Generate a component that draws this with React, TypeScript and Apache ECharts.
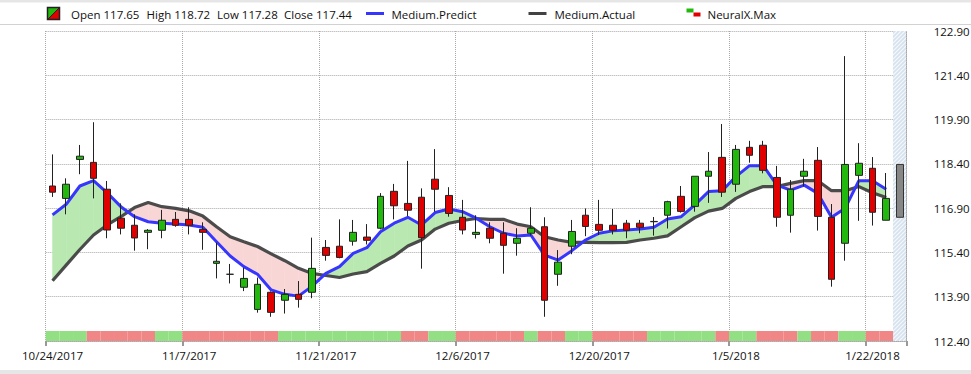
import React, { useEffect, useRef } from "react";
import * as echarts from "echarts";

// ---------------- data ----------------
const dates = [
  "10/24/2017", "10/25/2017", "10/26/2017", "10/27/2017", "10/30/2017", "10/31/2017", "11/1/2017", "11/2/2017", "11/3/2017", "11/6/2017",
  "11/7/2017", "11/8/2017", "11/9/2017", "11/10/2017", "11/13/2017", "11/14/2017", "11/15/2017", "11/16/2017", "11/17/2017", "11/20/2017",
  "11/21/2017", "11/22/2017", "11/24/2017", "11/27/2017", "11/28/2017", "11/29/2017", "11/30/2017", "12/1/2017", "12/4/2017", "12/5/2017",
  "12/6/2017", "12/7/2017", "12/8/2017", "12/11/2017", "12/12/2017", "12/13/2017", "12/14/2017", "12/15/2017", "12/18/2017", "12/19/2017",
  "12/20/2017", "12/21/2017", "12/22/2017", "12/26/2017", "12/27/2017", "12/28/2017", "12/29/2017", "1/2/2018", "1/3/2018", "1/4/2018",
  "1/5/2018", "1/8/2018", "1/9/2018", "1/10/2018", "1/11/2018", "1/12/2018", "1/16/2018", "1/17/2018", "1/18/2018", "1/19/2018",
  "1/22/2018", "1/23/2018", "1/24/2018",
];

const opens = [
  117.65, 117.23, 118.55, 118.45, 117.54, 116.56, 116.32, 116.08, 116.15, 116.52,
  116.52, 116.18, 115.03, 114.66, 114.22, 113.47, 114.05, 113.78, 113.98, 114.05,
  115.57, 115.61, 115.78, 115.92, 116.22, 117.47, 117.06, 117.27, 117.88, 117.33,
  116.59, 116.01, 116.22, 116.05, 115.71, 116.05, 116.27, 114.66, 115.61, 116.66,
  116.35, 116.32, 116.39, 116.39, 116.44, 116.66, 117.3, 116.96, 117.98, 118.62,
  117.71, 118.96, 119.03, 117.94, 116.66, 117.98, 118.52, 116.59, 115.71, 118.01,
  118.25, 116.49,
];
const highs = [
  118.72, 117.91, 119.04, 119.81, 117.82, 117.06, 116.69, 116.19, 116.84, 116.77,
  116.93, 116.42, 115.73, 115.01, 114.88, 114.55, 114.08, 114.16, 114.43, 115.9,
  115.82, 116.52, 116.5, 116.36, 117.41, 117.72, 118.5, 117.57, 118.9, 117.61,
  117.18, 116.66, 116.42, 116.42, 116.22, 116.93, 116.59, 115.48, 116.5, 116.89,
  117.18, 116.87, 116.5, 116.5, 116.6, 117.15, 117.65, 117.98, 118.8, 119.75,
  119.04, 119.18, 119.18, 118.33, 117.85, 118.57, 118.97, 117.04, 122.05, 119.1,
  118.63, 118.09,
];
const lows = [
  117.28, 116.69, 118.05, 117.23, 115.88, 116.01, 115.46, 115.51, 115.88, 116.27,
  116.01, 115.49, 114.52, 114.35, 114.09, 113.36, 113.22, 113.33, 113.53, 113.85,
  115.12, 115.2, 115.63, 115.67, 116.18, 116.52, 116.63, 114.85, 116.78, 116.61,
  116.01, 115.87, 115.71, 114.68, 115.29, 115.97, 113.22, 114.27, 115.34, 115.95,
  115.99, 116.01, 115.88, 116.05, 115.97, 116.21, 116.75, 116.78, 117.08, 117.28,
  117.45, 118.44, 118.08, 116.27, 116.07, 117.64, 116.14, 114.24, 115.12, 116.47,
  116.31, 116.49,
];
const closes = [
  117.44, 117.71, 118.66, 117.91, 116.16, 116.22, 115.89, 116.15, 116.49, 116.32,
  116.32, 116.08, 115.1, 114.66, 114.52, 114.32, 113.37, 113.98, 113.81, 114.86,
  115.3, 115.23, 116.08, 115.81, 117.3, 116.98, 116.83, 115.9, 117.54, 116.72,
  116.16, 116.08, 115.88, 115.64, 115.88, 116.22, 113.78, 115.07, 116.11, 116.28,
  116.15, 116.15, 116.15, 116.25, 116.45, 117.12, 116.79, 117.98, 118.15, 117.44,
  118.89, 118.69, 118.18, 116.59, 117.54, 118.15, 116.62, 114.49, 118.38, 118.42,
  116.76, 117.23,
];
// forecast bar for the next session: [open, close, low, high]
const forecastBar = [116.59, 118.38, 116.59, 118.38];

const mediumPredict = [
  116.67, 117.03, 117.65, 117.83, 117.42, 116.95, 116.61, 116.44, 116.39, 116.36,
  116.33, 116.25, 115.76, 115.28, 114.92, 114.66, 114.13, 113.98, 113.92, 114.26,
  114.69, 114.92, 115.37, 115.56, 116.1, 116.39, 116.59, 116.33, 116.75, 116.87,
  116.78, 116.56, 116.27, 116.05, 115.96, 115.99, 115.31, 115.14, 115.46, 115.82,
  116.05, 116.13, 116.16, 116.19, 116.25, 116.53, 116.61, 117.01, 117.46, 117.49,
  117.97, 118.34, 118.34, 117.68, 117.51, 117.68, 117.4, 116.59, 116.9, 117.83,
  117.83, 117.54,
];
const mediumActual = [
  114.44, 114.97, 115.5, 115.99, 116.33, 116.61, 116.92, 117.09, 116.95, 116.89,
  116.81, 116.63, 116.27, 115.93, 115.76, 115.6, 115.35, 115.12, 114.86, 114.69,
  114.62, 114.55, 114.67, 114.75, 115.03, 115.28, 115.62, 115.82, 116.19, 116.39,
  116.48, 116.55, 116.52, 116.52, 116.36, 116.27, 115.93, 115.82, 115.74, 115.74,
  115.73, 115.73, 115.74, 115.82, 115.88, 115.96, 116.27, 116.58, 116.8, 116.89,
  117.23, 117.46, 117.63, 117.63, 117.74, 117.83, 117.83, 117.49, 117.49, 117.63,
  117.42, 117.26,
];
// NeuralX.Max signal: 1 = up (green), -1 = down (red)
const neuralXMax = [
  1, 1, 1, -1, -1, -1, -1, -1, 1, 1,
  -1, -1, -1, -1, -1, -1, -1, 1, 1, 1,
  1, 1, 1, 1, 1, 1, -1, -1, 1, 1,
  -1, -1, -1, -1, -1, 1, -1, -1, 1, 1,
  -1, -1, -1, -1, 1, 1, 1, 1, 1, -1,
  1, 1, -1, -1, -1, 1, -1, -1, 1, 1,
  -1, -1,
];
const yTicks = [112.4, 113.9, 115.4, 116.9, 118.4, 119.9, 121.4, 122.9];

// ---------------- styles ----------------
const FONT = '"Open Sans", "Noto Sans", sans-serif';
const UP = "#22B80E";
const DOWN = "#E00000";
const BLUE = "#3636FF";
const DARK = "#424242";
const FILL_UP = "#B9E8B1";
const FILL_DOWN = "#F9D6D6";
const SIG_UP = "#93E084";
const SIG_DOWN = "#F08686";
const GRID_COLOR = "#A8A8A8";

export default function App() {
  const ref = useRef<HTMLDivElement>(null);

  useEffect(() => {
    if (!ref.current) return;
    const chart = echarts.init(ref.current, null, { renderer: "svg" });
    const yMin = yTicks[0];
    const yMax = yTicks[yTicks.length - 1];
    const forecastIndex = dates.length - 1;
    const every10 = (i: number) => i % 10 === 0;

    const candleData: any[] = opens.map((o, i) => [o, closes[i], lows[i], highs[i]]);
    candleData.push({
      value: forecastBar,
      itemStyle: { color: "#878787", color0: "#878787", borderColor: "#333", borderColor0: "#333" },
    });

    const fillData = mediumPredict.slice(0, -1).map((p, i) => [i, p, mediumActual[i], mediumPredict[i + 1], mediumActual[i + 1]]);

    const legendY = 14;
    const legendText = (x: number, text: string) => ({
      type: "text",
      x,
      y: legendY,
      style: { text, fill: "#111", fontSize: 11.5, fontFamily: FONT, verticalAlign: "middle", textVerticalAlign: "middle" },
    });

    const option: any = {
      animation: false,
      backgroundColor: "#ffffff",
      grid: { left: 45.7, right: 64.3, top: 31, bottom: 33, outerBoundsMode: "none" },
      xAxis: {
        type: "category",
        data: dates,
        boundaryGap: true,
        axisLine: { show: true, lineStyle: { color: GRID_COLOR, type: "dotted" } },
        axisTick: { show: true, interval: every10, length: 5, lineStyle: { color: "#999", width: 2 } },
        axisLabel: { interval: every10, margin: 8, fontSize: 11.5, fontFamily: FONT, color: "#111" },
        splitLine: { show: true, interval: every10, lineStyle: { color: GRID_COLOR, type: "dotted" } },
      },
      yAxis: {
        type: "value",
        position: "right",
        min: yMin,
        max: yMax,
        axisLine: { show: true, lineStyle: { color: GRID_COLOR, type: "dotted" } },
        axisTick: { show: false, customValues: yTicks },
        axisLabel: {
          customValues: yTicks,
          formatter: (v: number) => v.toFixed(2),
          margin: 27,
          fontSize: 11.5,
          fontFamily: FONT,
          color: "#111",
        },
        splitLine: { show: true, lineStyle: { color: GRID_COLOR, type: "dotted" } },
      },
      graphic: [
        { type: "rect", shape: { x: 0, y: 0, width: 971, height: 2.5 }, style: { fill: "#E6E6E6" } },
        { type: "line", shape: { x1: 0, y1: 24.5, x2: 971, y2: 24.5 }, style: { stroke: "#D2D2D2", lineWidth: 1 } },
        { type: "rect", shape: { x: 0, y: 370, width: 971, height: 4 }, style: { fill: "#E6E6E6" } },
        { type: "polygon", shape: { points: [[47.5, 7.5], [59.5, 7.5], [47.5, 19.5]] }, style: { fill: UP } },
        { type: "polygon", shape: { points: [[59.5, 7.5], [59.5, 19.5], [47.5, 19.5]] }, style: { fill: DOWN } },
        { type: "line", shape: { x1: 47.5, y1: 19.5, x2: 59.5, y2: 7.5 }, style: { stroke: "#222", lineWidth: 1 } },
        { type: "rect", shape: { x: 47.5, y: 7.5, width: 12, height: 12 }, style: { fill: "none", stroke: "#222", lineWidth: 1.5 } },
        legendText(71, `Open ${opens[0].toFixed(2)}`),
        legendText(146.5, `High ${highs[0].toFixed(2)}`),
        legendText(217, `Low ${lows[0].toFixed(2)}`),
        legendText(284, `Close ${closes[0].toFixed(2)}`),
        { type: "line", shape: { x1: 366, y1: 13.5, x2: 384, y2: 13.5 }, style: { stroke: BLUE, lineWidth: 3 } },
        legendText(391.5, "Medium.Predict"),
        { type: "line", shape: { x1: 528.5, y1: 13.5, x2: 546.5, y2: 13.5 }, style: { stroke: DARK, lineWidth: 3 } },
        legendText(554.5, "Medium.Actual"),
        { type: "rect", shape: { x: 686.5, y: 8.5, width: 7, height: 4 }, style: { fill: UP } },
        { type: "rect", shape: { x: 693.5, y: 12.5, width: 7, height: 4 }, style: { fill: DOWN } },
        legendText(707.5, "NeuralX.Max"),
      ],
      series: [
        {
          // forecast (hatched) zone
          type: "custom",
          z: 0,
          silent: true,
          data: [[forecastIndex, yMin]],
          encode: { x: 0, y: 1 },
          renderItem: (params: any, api: any) => {
            const cs = params.coordSys;
            const w = api.size([1, 0])[0];
            const cx = api.coord([api.value(0), yMin])[0];
            const x0 = cx - w / 2;
            const top = cs.y;
            const bottom = cs.y + cs.height;
            const children: any[] = [
              { type: "rect", shape: { x: x0, y: top, width: w, height: cs.height }, style: { fill: "#D5E1ED" } },
            ];
            for (let c = top; c <= bottom + w; c += 4) {
              // line y = c - (x - x0), clipped to [top, bottom]
              let xa = x0, ya = c;
              let xb = x0 + w, yb = c - w;
              if (ya > bottom) { xa = x0 + (ya - bottom); ya = bottom; }
              if (yb < top) { xb = x0 + (c - top); yb = top; }
              if (xb <= xa) continue;
              children.push({ type: "line", shape: { x1: xa, y1: ya, x2: xb, y2: yb }, style: { stroke: "#F4F8FC", lineWidth: 1.2 } });
            }
            return { type: "group", children };
          },
        },
        {
          // area between Medium.Predict and Medium.Actual
          type: "custom",
          z: 1,
          silent: true,
          data: fillData,
          encode: { x: 0, y: [1, 2, 3, 4] },
          renderItem: (_params: any, api: any) => {
            const i = api.value(0);
            const bv0 = api.value(1), gv0 = api.value(2), bv1 = api.value(3), gv1 = api.value(4);
            const b0 = api.coord([i, bv0]);
            const g0 = api.coord([i, gv0]);
            const b1 = api.coord([i + 1, bv1]);
            const g1 = api.coord([i + 1, gv1]);
            const d0 = bv0 - gv0;
            const d1 = bv1 - gv1;
            const col = (d: number) => (d >= 0 ? FILL_UP : FILL_DOWN);
            const poly = (pts: number[][], fill: string) => ({
              type: "polygon",
              shape: { points: pts },
              style: { fill, stroke: fill, lineWidth: 0.5 },
            });
            if (d0 * d1 >= 0) {
              return { type: "group", children: [poly([b0, b1, g1, g0], col(d0 !== 0 ? d0 : d1))] };
            }
            const t = d0 / (d0 - d1);
            const X = [b0[0] + t * (b1[0] - b0[0]), b0[1] + t * (b1[1] - b0[1])];
            return {
              type: "group",
              children: [poly([b0, X, g0], col(d0)), poly([X, b1, g1], col(d1))],
            };
          },
        },
        {
          // NeuralX.Max strip
          type: "custom",
          name: "NeuralX.Max",
          z: 1,
          silent: true,
          data: neuralXMax.map((s, i) => [i, yMin, s]),
          encode: { x: 0, y: 1 },
          renderItem: (_params: any, api: any) => {
            const w = api.size([1, 0])[0];
            const p = api.coord([api.value(0), yMin]);
            return {
              type: "rect",
              shape: { x: p[0] - w / 2, y: p[1] - 10, width: w, height: 10 },
              style: { fill: api.value(2) > 0 ? SIG_UP : SIG_DOWN },
            };
          },
        },
        {
          type: "line",
          name: "Medium.Actual",
          z: 3,
          data: mediumActual,
          symbol: "none",
          lineStyle: { color: DARK, width: 3.2, opacity: 0.95 },
          itemStyle: { color: DARK },
        },
        {
          type: "line",
          name: "Medium.Predict",
          z: 3,
          data: mediumPredict,
          symbol: "none",
          lineStyle: { color: BLUE, width: 3 },
          itemStyle: { color: BLUE },
        },
        {
          type: "candlestick",
          name: "Price",
          z: 5,
          barWidth: 7,
          data: candleData,
          itemStyle: {
            color: UP,
            color0: DOWN,
            borderColor: "#222",
            borderColor0: "#222",
            borderWidth: 1,
          },
        },
      ],
    };

    chart.setOption(option);
    return () => chart.dispose();
  }, []);

  return <div ref={ref} style={{ position: "fixed", left: 0, top: 0, width: 971, height: 374 }} />;
}
